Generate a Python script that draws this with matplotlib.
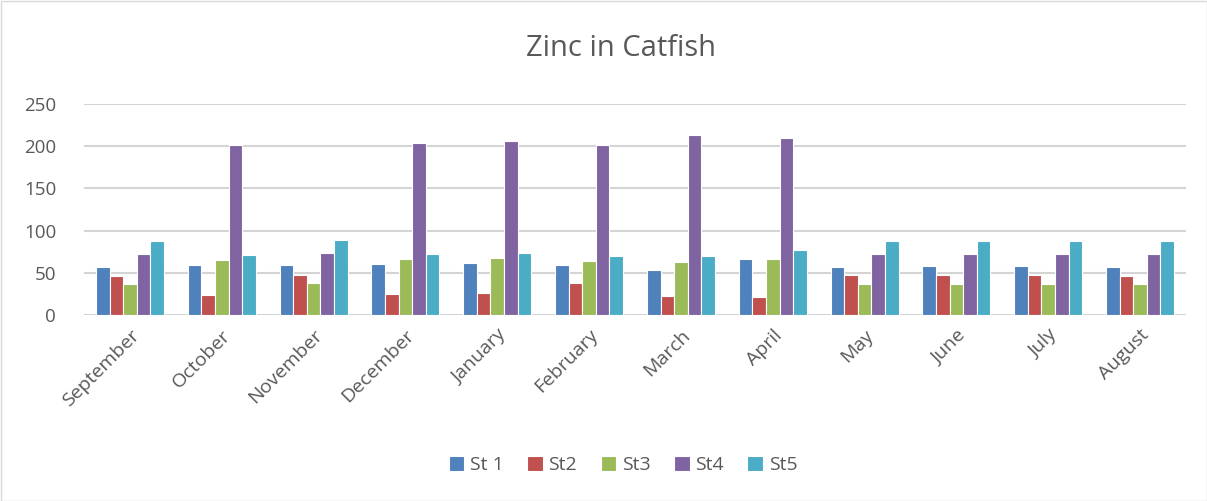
import matplotlib
matplotlib.use("Agg")
import matplotlib.pyplot as plt
import numpy as np
from matplotlib.patches import Rectangle

months = ["September", "October", "November", "December", "January", "February",
          "March", "April", "May", "June", "July", "August"]
series_names = ["St 1", "St2", "St3", "St4", "St5"]
st1 = [57.1, 59.5, 59.5, 60.7, 61.5, 59.5, 53.6, 66.3, 57.1, 57.9, 57.9, 57.1]
st2 = [46.4, 23.4, 47.6, 24.6, 26.2, 37.7, 23.0, 21.4, 47.2, 47.2, 47.2, 46.4]
st3 = [36.9, 65.5, 37.7, 66.7, 67.9, 64.3, 62.7, 66.3, 36.9, 36.9, 36.5, 36.5]
st4 = [71.8, 202.0, 73.4, 203.2, 206.0, 201.2, 213.0, 210.0, 72.2, 72.2, 72.2, 71.8]
st5 = [87.7, 71.0, 88.9, 72.2, 73.4, 69.4, 70.2, 77.4, 88.1, 88.1, 88.1, 87.7]
yticks = [0, 50, 100, 150, 200, 250]

colors = ["#4f81bd", "#c0504d", "#9bbb59", "#8064a2", "#4bacc6"]
text_color = "#595959"
plt.rcParams['font.family'] = ['Open Sans', 'DejaVu Sans']

fig = plt.figure(figsize=(12.07, 5.01), dpi=100)
ax = fig.add_axes([84/1207, 1 - 315/501, (1186-84)/1207, (315-104)/501])

x = np.arange(len(months))
w = 0.148
data = [st1, st2, st3, st4, st5]
for i, (vals, name, c) in enumerate(zip(data, series_names, colors)):
    ax.bar(x + (i - 2) * w, vals, width=w, color=c, edgecolor="white",
           linewidth=0.8, label=name, zorder=3)

ax.set_xlim(-0.5, len(months) - 0.5)
ax.set_ylim(0, 250)
ax.set_yticks(yticks)
ax.set_yticklabels([str(v) for v in yticks], fontsize=13.5, color=text_color)
ax.yaxis.grid(True, color="#d4d4d4", linewidth=1.5, zorder=0)
ax.set_axisbelow(True)
for s in ax.spines.values():
    s.set_visible(False)
ax.tick_params(axis='both', length=0)
ax.tick_params(axis='y', pad=20)
ax.set_xticks(x)
ax.set_xticklabels(months, rotation=45, ha='right', rotation_mode='anchor',
                   fontsize=14, color=text_color)
ax.tick_params(axis='x', pad=8)

fig.text(621/1207, 1 - 48/501, "Zinc in Catfish", ha='center', va='center',
         fontsize=21, color=text_color)

leg = fig.legend(loc='center', bbox_to_anchor=(623/1207, 1 - 465/501), ncol=5,
                 frameon=False, fontsize=14, handlelength=0.8, handleheight=0.8,
                 handletextpad=0.3, columnspacing=1.2, labelcolor=text_color)

fig.patches.append(Rectangle((0.5/1207, 0.5/501), 1 - 1/1207, 1 - 1/501,
                             transform=fig.transFigure, fill=False,
                             edgecolor="#d9d9d9", linewidth=1))

fig.savefig("out.png", dpi=100, facecolor="white")
